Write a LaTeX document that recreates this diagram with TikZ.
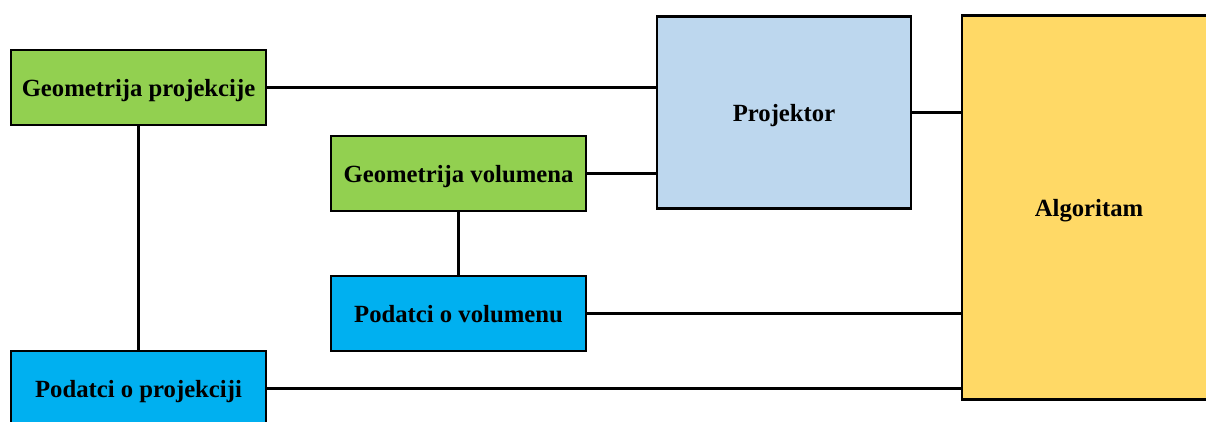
\documentclass[tikz,border=0pt]{standalone}
\usepackage{fontspec}
\setmainfont{Liberation Serif}
\definecolor{cgreen}{HTML}{92D050}
\definecolor{cblue}{HTML}{00B0F0}
\definecolor{clight}{HTML}{BDD7EE}
\definecolor{cyellow}{HTML}{FFD966}
\newlength{\pxu}
\setlength{\pxu}{0.02646cm}
\tikzset{x=0.02646cm,y=-0.02646cm,
 boxn/.style={draw=black,line width=2.05pt,inner sep=0pt,text height=18pt,text depth=3.8pt,font=\bfseries\fontsize{18.6pt}{20pt}\selectfont},
 conn/.style={draw=black,line width=2.05pt}}
\begin{document}
\begin{tikzpicture}
\useasboundingbox (0,0) rectangle (1206,422);
\clip (0,0) rectangle (1206,422);
\fill[white] (0,0) rectangle (1206,422);
\node[boxn,fill=cgreen,minimum width=255\pxu,minimum height=75\pxu] (gp) at (138.5,87.5) {Geometrija projekcije};
\node[boxn,fill=cblue,minimum width=255\pxu,minimum height=75\pxu] (pp) at (138.5,388.5) {Podatci o projekciji};
\node[boxn,fill=cgreen,minimum width=255\pxu,minimum height=75\pxu] (gv) at (458.5,173.5) {Geometrija volumena};
\node[boxn,fill=cblue,minimum width=255\pxu,minimum height=75\pxu] (pv) at (458.5,313.5) {Podatci o volumenu};
\node[boxn,fill=clight,minimum width=254\pxu,minimum height=192\pxu] (pr) at (784,112.4) {Projektor};
\node[boxn,fill=cyellow,minimum width=254\pxu,minimum height=384\pxu] (al) at (1089,207.5) {Algoritam};
\draw[conn] (gp.south) -- (pp.north);
\draw[conn] (gv.south) -- (pv.north);
\draw[conn] (gp.east) -- (gp.east -| pr.west);
\draw[conn] (gv.east) -- (gv.east -| pr.west);
\draw[conn] (pr.east) -- (pr.east -| al.west);
\draw[conn] (pv.east) -- (pv.east -| al.west);
\draw[conn] (pp.east) -- (pp.east -| al.west);
\end{tikzpicture}
\end{document}
